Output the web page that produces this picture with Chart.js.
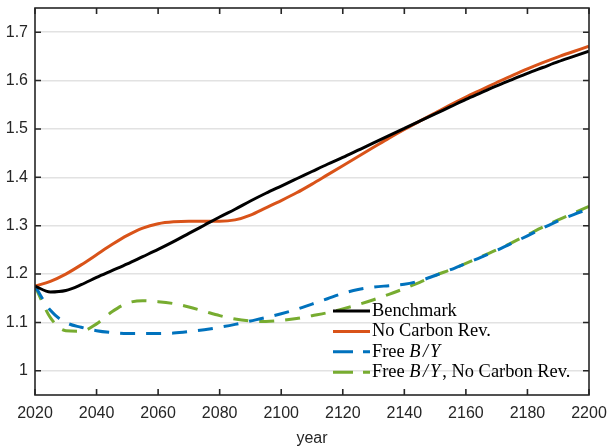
<!DOCTYPE html>
<html>
<head>
<meta charset="utf-8">
<script src="https://cdn.jsdelivr.net/npm/chart.js@4"></script>
<style>
  html, body { margin: 0; padding: 0; background: #fff; }
</style>
</head>
<body>
<canvas id="chart" width="609" height="448"></canvas>
<script>
// Years on the x axis (every 5 years)
const years = [2020, 2025, 2030, 2035, 2040, 2045, 2050, 2055, 2060, 2065,
  2070, 2075, 2080, 2085, 2090, 2095, 2100, 2105, 2110, 2115,
  2120, 2125, 2130, 2135, 2140, 2145, 2150, 2155, 2160, 2165,
  2170, 2175, 2180, 2185, 2190, 2195, 2200];

const benchmark = [1.175, 1.163, 1.166, 1.178, 1.193, 1.207, 1.221, 1.236, 1.251, 1.267,
  1.284, 1.301, 1.318, 1.334, 1.351, 1.367, 1.382, 1.397, 1.412, 1.427,
  1.441, 1.456, 1.471, 1.486, 1.501, 1.516, 1.531, 1.546, 1.561, 1.575,
  1.589, 1.602, 1.615, 1.627, 1.639, 1.650, 1.661];

const noCarbonRev = [1.175, 1.185, 1.200, 1.219, 1.240, 1.261, 1.280, 1.295, 1.304, 1.308,
  1.309, 1.309, 1.309, 1.312, 1.322, 1.337, 1.352, 1.368, 1.386, 1.405,
  1.424, 1.443, 1.462, 1.481, 1.499, 1.516, 1.533, 1.550, 1.566, 1.581,
  1.596, 1.610, 1.624, 1.637, 1.649, 1.660, 1.671];

const freeBY = [1.175, 1.125, 1.100, 1.090, 1.083, 1.079, 1.077, 1.077, 1.077, 1.078,
  1.081, 1.085, 1.090, 1.096, 1.103, 1.110, 1.118, 1.127, 1.138, 1.149,
  1.160, 1.168, 1.173, 1.176, 1.179, 1.186, 1.197, 1.209, 1.222, 1.235,
  1.249, 1.264, 1.279, 1.295, 1.310, 1.323, 1.335];

const freeBYNoCarbon = [1.175, 1.110, 1.083, 1.082, 1.097, 1.122, 1.140, 1.145, 1.143, 1.139,
  1.132, 1.123, 1.114, 1.107, 1.103, 1.102, 1.104, 1.108, 1.114, 1.120,
  1.128, 1.137, 1.147, 1.158, 1.170, 1.183, 1.197, 1.209, 1.222, 1.236,
  1.250, 1.265, 1.281, 1.297, 1.312, 1.326, 1.340];

const seriesLabels = ["Benchmark", "No Carbon Rev.", "Free B/Y", "Free B/Y, No Carbon Rev."];
const xTicks = [2020, 2040, 2060, 2080, 2100, 2120, 2140, 2160, 2180, 2200];
const yTicks = [1, 1.1, 1.2, 1.3, 1.4, 1.5, 1.6, 1.7];
const yTickLabels = ["1", "1.1", "1.2", "1.3", "1.4", "1.5", "1.6", "1.7"];

const axisColor = "#262626";
const tickFont = { family: "'Liberation Sans', Arial, sans-serif", size: 16 };
const legendFont = "'Liberation Serif', 'Times New Roman', serif";

function toPoints(values) {
  return years.map((yr, i) => ({ x: yr, y: values[i] }));
}

// Box around the plot with inward ticks on all four sides (MATLAB style)
const boxPlugin = {
  id: "box",
  afterDatasetsDraw(chart) {
    const { ctx, chartArea: a, scales } = chart;
    const len = 6;
    ctx.save();
    ctx.strokeStyle = axisColor;
    ctx.lineWidth = 1.6;
    ctx.strokeRect(a.left, a.top, a.right - a.left, a.bottom - a.top);
    ctx.beginPath();
    xTicks.forEach((v) => {
      const px = scales.x.getPixelForValue(v);
      ctx.moveTo(px, a.bottom); ctx.lineTo(px, a.bottom - len);
      ctx.moveTo(px, a.top); ctx.lineTo(px, a.top + len);
    });
    yTicks.forEach((v) => {
      const py = scales.y.getPixelForValue(v);
      ctx.moveTo(a.left, py); ctx.lineTo(a.left + len, py);
      ctx.moveTo(a.right, py); ctx.lineTo(a.right - len, py);
    });
    ctx.stroke();
    ctx.restore();
  },
};

// draw a label, "B/Y" in math italics with a bit of spacing
function drawLabel(ctx, text, x, y, size) {
  let tx = x;
  text.split(/(B\/Y)/).forEach((p) => {
    if (!p) return;
    if (p === "B/Y") {
      ctx.font = "italic " + size + "px " + legendFont;
      ["B", "/", "Y"].forEach((ch, k) => {
        ctx.fillText(ch, tx, y);
        tx += ctx.measureText(ch).width + (k === 0 ? 2.5 : 2);
      });
    } else {
      ctx.font = size + "px " + legendFont;
      ctx.fillText(p, tx, y);
      tx += ctx.measureText(p).width;
    }
  });
}

// Legend without frame, bottom right
const legendPlugin = {
  id: "customLegend",
  afterDraw(chart) {
    const { ctx, chartArea: a } = chart;
    const x0 = a.right - 256;
    const lineLen = 37;
    const rowH = 20.4;
    const y0 = a.bottom - 84;
    ctx.save();
    chart.data.datasets.forEach((ds, i) => {
      const y = y0 + i * rowH;
      ctx.strokeStyle = ds.borderColor;
      ctx.lineWidth = ds.borderWidth;
      ctx.setLineDash(ds.borderDash.length ? [20, 10] : []);
      ctx.beginPath();
      ctx.moveTo(x0, y);
      ctx.lineTo(x0 + lineLen, y);
      ctx.stroke();
      ctx.setLineDash([]);
      ctx.fillStyle = "#000";
      ctx.textBaseline = "middle";
      drawLabel(ctx, ds.label, x0 + lineLen + 2, y, 18.4);
    });
    ctx.restore();
  },
};

new Chart(document.getElementById("chart"), {
  type: "line",
  data: {
    datasets: [
      { label: seriesLabels[0], data: toPoints(benchmark), borderColor: "#000000", borderWidth: 3, borderDash: [] },
      { label: seriesLabels[1], data: toPoints(noCarbonRev), borderColor: "#D95319", borderWidth: 3, borderDash: [] },
      { label: seriesLabels[2], data: toPoints(freeBY), borderColor: "#0072BD", borderWidth: 3, borderDash: [15, 11] },
      { label: seriesLabels[3], data: toPoints(freeBYNoCarbon), borderColor: "#77AC30", borderWidth: 3, borderDash: [15, 11] },
    ],
  },
  options: {
    responsive: false,
    animation: false,
    events: [],
    elements: { point: { radius: 0 }, line: { cubicInterpolationMode: "monotone" } },
    layout: { padding: { top: 8, right: 20, left: 0, bottom: 0 } },
    plugins: { legend: { display: false }, tooltip: { enabled: false } },
    scales: {
      x: {
        type: "linear",
        min: 2020,
        max: 2200,
        afterBuildTicks: (scale) => { scale.ticks = xTicks.map((v) => ({ value: v })); },
        afterFit: (scale) => {
          scale.height = 53;
          scale.paddingLeft = 0;
          scale.paddingRight = 0;
        },
        ticks: { font: tickFont, color: axisColor, padding: 9, maxRotation: 0, autoSkip: false,
          callback: (v) => String(v) },
        grid: { display: false, drawTicks: false },
        border: { display: false },
        title: { display: true, text: "year", font: tickFont, color: axisColor, padding: 0 },
      },
      y: {
        type: "linear",
        min: 0.95,
        max: 1.75,
        afterBuildTicks: (scale) => { scale.ticks = yTicks.map((v) => ({ value: v })); },
        afterFit: (scale) => {
          scale.width = 35;
          scale.paddingTop = 0;
          scale.paddingBottom = 0;
        },
        ticks: { font: tickFont, color: axisColor, padding: 7, autoSkip: false,
          callback: (v, i) => yTickLabels[i] },
        grid: { color: "#e2e2e2", lineWidth: 1.6, drawTicks: false },
        border: { display: false },
      },
    },
  },
  plugins: [boxPlugin, legendPlugin],
});
</script>
</body>
</html>
